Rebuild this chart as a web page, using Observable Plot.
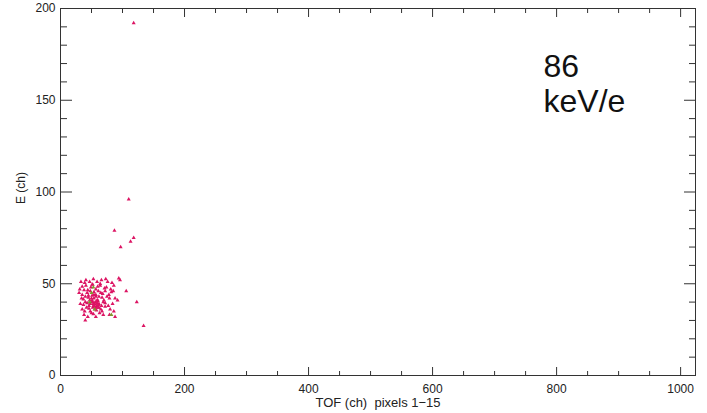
<!DOCTYPE html>
<html>
<head>
<meta charset="utf-8">
<script src="https://cdn.jsdelivr.net/npm/d3@7"></script>
<script src="https://cdn.jsdelivr.net/npm/@observablehq/plot@0.6"></script>
<style>
  html, body { margin: 0; padding: 0; background: #fff; }
  #chart { width: 707px; height: 413px; }
</style>
</head>
<body>
<div id="chart"></div>
<script>
// Events: time-of-flight channel vs energy channel (pixels 1-15, 86 keV/e)
const tofMagenta = [
  33, 39, 41, 47, 51, 53, 59, 64, 66, 73, 76, 83, 86, 96, 94,
  31, 35, 41, 44, 49, 52, 57, 60, 64, 71, 74, 81, 85,
  30, 35, 38, 43, 45, 48, 54, 57, 61, 65, 68, 72, 78, 82, 106,
  34, 37, 40, 45, 47, 51, 54, 59, 62, 67, 70, 75, 79, 88, 92,
  32, 37, 40, 43, 46, 51, 53, 55, 60, 62, 66, 69, 72, 77, 84, 123,
  35, 39, 42, 46, 48, 52, 56, 58, 61, 65, 67, 72, 80, 86,
  38, 44, 50, 53, 57, 63, 69, 79, 88,
  40, 134,
  50, 52, 55, 57, 60, 54, 48, 58, 62, 56, 53, 59, 51, 61, 57,
  118, 110, 87, 97, 113, 118
];
const energyMagenta = [
  51, 50.5, 52, 51, 49.5, 52.5, 51, 50, 52, 52.5, 51, 50.5, 49, 52, 53,
  47, 48.5, 49, 46.5, 48, 49.5, 47, 48.5, 49, 47.5, 48, 47, 46,
  45, 44, 46.5, 45, 43.5, 46, 45.5, 44, 46, 45, 44.5, 46, 44, 45.5, 46,
  42, 41.5, 43, 42.5, 41, 43.5, 42, 41, 43, 42.5, 41, 43, 42, 42, 41,
  39, 38.5, 40, 39.5, 38, 40, 39, 37.5, 40.5, 39, 38, 40, 39.5, 38, 39, 40,
  36, 35, 37, 36.5, 35, 37, 36, 35.5, 37, 36, 35, 37.5, 36, 35,
  33, 32, 34, 33.5, 32, 34, 33, 33, 32,
  30, 27,
  42, 40, 39, 43, 41, 44, 39, 38, 37, 40, 38, 39.5, 41, 38.5, 37,
  192, 96, 79, 70, 73, 75
];
const tofGreen = [50, 53, 55, 82, 47];
const energyGreen = [45, 48, 36, 33, 40];

const xMajor = [0, 200, 400, 600, 800, 1000];
const xMinor = d3.range(0, 1001, 50).filter(v => v % 200 !== 0);
const yMajor = [0, 50, 100, 150, 200];
const yMinor = d3.range(0, 201, 10).filter(v => v % 50 !== 0);

const magenta = tofMagenta.map((t, i) => ({tof: t, e: energyMagenta[i]}));
const green = tofGreen.map((t, i) => ({tof: t, e: energyGreen[i]}));

const blank = () => "";
const plain = d3.format("d");
const axisColor = "#333";

const chart = Plot.plot({
  width: 707,
  height: 413,
  marginLeft: 60,
  marginRight: 12,
  marginTop: 8,
  marginBottom: 38,
  x: {domain: [0, 1024]},
  y: {domain: [0, 200]},
  style: {fontFamily: "'Liberation Sans', Arial, sans-serif", fontSize: "12px", color: "#222", background: "#fff"},
  marks: [
    Plot.frame({stroke: axisColor}),
    // bottom / top ticks, pointing inward
    Plot.axisX(xMajor, {anchor: "bottom", tickSize: -8, tickPadding: 17, tickFormat: plain, label: null, stroke: axisColor}),
    Plot.axisX(xMinor, {anchor: "bottom", tickSize: -4, tickFormat: blank, label: null, stroke: axisColor}),
    Plot.axisX(xMajor, {anchor: "top", tickSize: -8, tickFormat: blank, label: null, stroke: axisColor}),
    Plot.axisX(xMinor, {anchor: "top", tickSize: -4, tickFormat: blank, label: null, stroke: axisColor}),
    // left / right ticks, pointing inward
    Plot.axisY(yMajor, {anchor: "left", tickSize: -12, tickPadding: 17, tickFormat: plain, label: null, stroke: axisColor}),
    Plot.axisY(yMinor, {anchor: "left", tickSize: -7, tickFormat: blank, label: null, stroke: axisColor}),
    Plot.axisY(yMajor, {anchor: "right", tickSize: -12, tickFormat: blank, label: null, stroke: axisColor}),
    Plot.axisY(yMinor, {anchor: "right", tickSize: -7, tickFormat: blank, label: null, stroke: axisColor}),
    // axis titles
    Plot.text(["TOF (ch)  pixels 1\u221215"], {frameAnchor: "bottom", dy: 31, fontSize: 13, fill: "#222"}),
    Plot.text(["E (ch)"], {frameAnchor: "left", dx: -39, dy: 12, rotate: -90, fontSize: 12, fill: "#222"}),
    // events
    Plot.dot(magenta, {x: "tof", y: "e", symbol: "triangle", r: 1.5, fill: "#dc1463", stroke: null}),
    Plot.dot(green, {x: "tof", y: "e", symbol: "triangle", r: 1.5, fill: "#7f9a2e", stroke: null}),
    // energy annotation
    Plot.text(["86\nkeV/e"], {frameAnchor: "top-right", textAnchor: "start", lineAnchor: "top",
      dx: -152, dy: 43, fontSize: 32, lineHeight: 1.1, fill: "#111",
      fontFamily: "'Liberation Sans', Arial, sans-serif"})
  ]
});
document.getElementById("chart").appendChild(chart);
</script>
</body>
</html>
